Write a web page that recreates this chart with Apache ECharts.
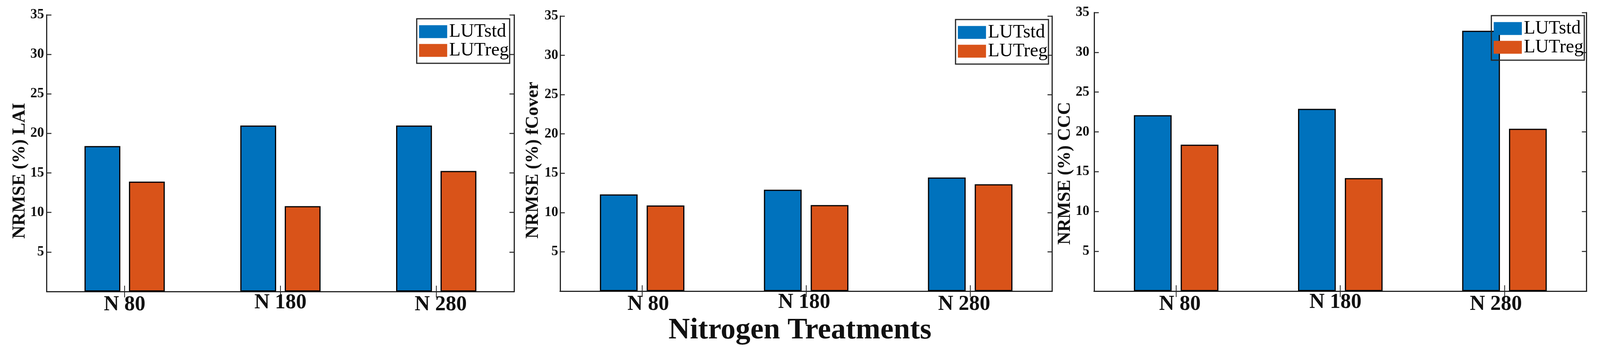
<!DOCTYPE html>
<html>
<head>
<meta charset="utf-8">
<script src="https://cdn.jsdelivr.net/npm/echarts@6/dist/echarts.min.js"></script>
<style>
html,body{margin:0;padding:0;background:#fff;overflow:hidden;}
#chart{width:100vw;height:100vh;}
</style>
</head>
<body>
<div id="chart"></div>
<script>
// ---- data ----
var categories = ['N 80', 'N 180', 'N 280'];
var seriesNames = ['LUTstd', 'LUTreg'];
var laiStd = [18.4, 21.0, 21.0];
var laiReg = [13.9, 10.8, 15.25];
var fcoverStd = [12.3, 12.9, 14.45];
var fcoverReg = [10.9, 10.95, 13.6];
var cccStd = [22.1, 22.9, 32.7];
var cccReg = [18.4, 14.2, 20.4];
var yTickLabels = ['5', '10', '15', '20', '25', '30', '35'];
var yTitles = ['NRMSE (%) LAI', 'NRMSE (%) fCover', 'NRMSE (%) CCC'];
var xTitle = 'Nitrogen Treatments';

// ---- styling / layout (reference measured on a 4279 x 911 canvas) ----
var FONT = '"Liberation Serif", "Times New Roman", serif';
var AX = '#262626';
var TXT = '#111111';
var BLUE = '#0072BD';
var ORANGE = '#D95319';
var W = 4279, H = 911;
function px(v) { return (v / W * 100) + '%'; }
function py(v) { return (v / H * 100) + '%'; }
var SX = (window.innerWidth || W) / W;

var grids = [
  {left: px(125), width: px(1250), top: py(38), height: py(708)},
  {left: px(1498), width: px(1316), top: py(41), height: py(704)},
  {left: px(2926), width: px(1317), top: py(32), height: py(713)}
];
var yLabelMargins = [7, 5, 12];
var yNameShift = [90, 34, 110];
var legendPos = [
  {right: px(W - 1363), top: py(48)},
  {right: px(W - 2804), top: py(50)},
  {right: px(W - 4237), top: py(40)}
];
// horizontal / vertical nudges of the category labels, as in the reference
var labelDx = [[0, 0, 12], [16, -5, -16], [10, -13, -23]];
var labelDy = [0, -5, 0];
var panels = [
  [laiStd, laiReg],
  [fcoverStd, fcoverReg],
  [cccStd, cccReg]
];

function labelItems(i) {
  return categories.map(function (c, j) {
    var dx = Math.round(labelDx[i][j] * SX * 2);
    var top = 5 + labelDy[j];
    return {
      value: c,
      textStyle: {padding: [top, dx < 0 ? -dx : 0, 0, dx > 0 ? dx : 0]}
    };
  });
}

var xAxes = [], yAxes = [], series = [], legends = [];
panels.forEach(function (p, i) {
  xAxes.push({
    type: 'category', gridIndex: i, data: labelItems(i), position: 'bottom',
    boundaryGap: true,
    axisLine: {show: true, lineStyle: {color: AX, width: 3}},
    axisTick: {show: true, inside: true, alignWithLabel: true, length: 15, lineStyle: {color: AX, width: 2}},
    axisLabel: {show: true, margin: 2, fontFamily: FONT, fontSize: 54, fontWeight: 'bold', color: TXT},
    splitLine: {show: false}
  });
  yAxes.push({
    type: 'value', gridIndex: i, min: 0, max: 35, interval: 5, position: 'left',
    name: yTitles[i], nameLocation: 'middle', nameGap: 46,
    nameTextStyle: {fontFamily: FONT, fontSize: 46, fontWeight: 'bold', color: TXT, padding: [0, yNameShift[i], 0, 0]},
    axisLine: {show: true, lineStyle: {color: AX, width: 3}},
    axisTick: {show: true, inside: true, length: 12, lineStyle: {color: AX, width: 2.5}},
    axisLabel: {
      show: true, margin: yLabelMargins[i], fontFamily: FONT, fontSize: 35, fontWeight: 'bold', color: TXT,
      formatter: function (v) { var s = String(v); return yTickLabels.indexOf(s) >= 0 ? s : ''; }
    },
    splitLine: {show: false}
  });
});
panels.forEach(function (p, i) {
  xAxes.push({
    type: 'category', gridIndex: i, data: categories, position: 'top',
    boundaryGap: true,
    axisLine: {show: true, lineStyle: {color: AX, width: 3}},
    axisTick: {show: true, inside: true, alignWithLabel: true, length: 15, lineStyle: {color: AX, width: 2}},
    axisLabel: {show: false},
    splitLine: {show: false}
  });
  yAxes.push({
    type: 'value', gridIndex: i, min: 0, max: 35, interval: 5, position: 'right',
    axisLine: {show: true, lineStyle: {color: AX, width: 3}},
    axisTick: {show: true, inside: true, length: 12, lineStyle: {color: AX, width: 2.5}},
    axisLabel: {show: false},
    splitLine: {show: false}
  });
  [0, 1].forEach(function (k) {
    series.push({
      type: 'bar', name: seriesNames[k], xAxisIndex: i, yAxisIndex: i,
      data: p[k], barWidth: '23%', barGap: '24%',
      itemStyle: {color: k === 0 ? BLUE : ORANGE, borderColor: '#000', borderWidth: 3},
      emphasis: {disabled: true}
    });
  });
  legends.push({
    data: seriesNames, orient: 'vertical', right: legendPos[i].right, top: legendPos[i].top,
    padding: [9, 2, 9, 6], itemGap: 0, itemWidth: Math.round(75 * SX), itemHeight: 33,
    borderColor: AX, borderWidth: 3, backgroundColor: 'transparent',
    icon: 'rect', itemStyle: {borderWidth: 0},
    selectedMode: false,
    textStyle: {fontFamily: FONT, fontSize: 48, color: '#000', lineHeight: 37}
  });
});

var chart = echarts.init(document.getElementById('chart'), null, {renderer: 'canvas'});
chart.setOption({
  backgroundColor: '#fff',
  animation: false,
  title: {
    text: xTitle, left: 'center', top: py(803),
    textStyle: {fontFamily: FONT, fontSize: 76, fontWeight: 'bold', color: TXT}
  },
  legend: legends,
  grid: grids,
  xAxis: xAxes,
  yAxis: yAxes,
  series: series
});
window.addEventListener('resize', function () { chart.resize(); });
</script>
</body>
</html>
